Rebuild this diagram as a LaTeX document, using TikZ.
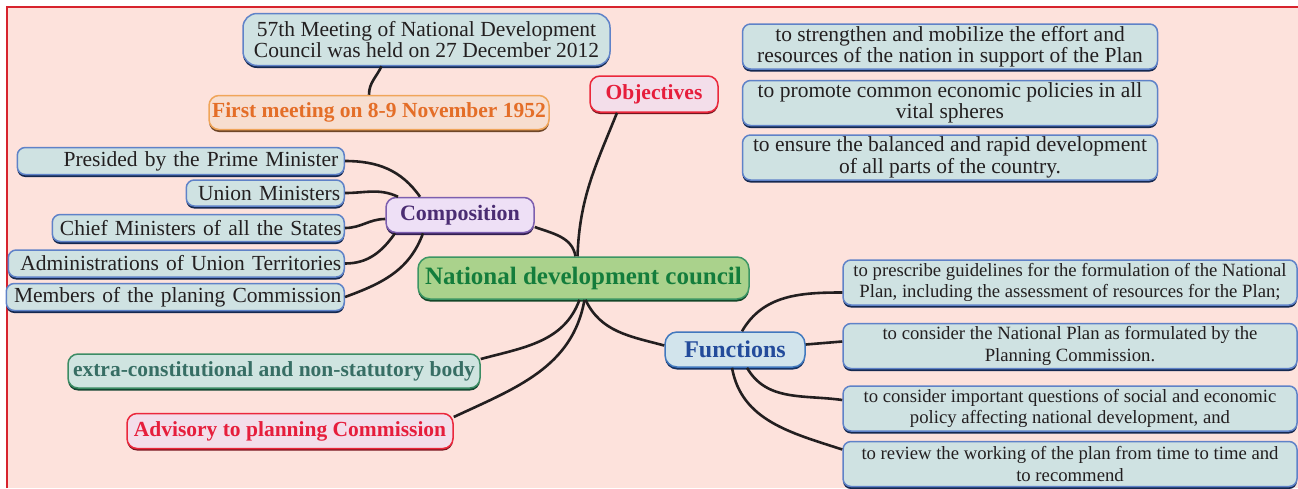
\documentclass[tikz,border=0pt]{standalone}
\usepackage{fontspec}
\setmainfont{Liberation Serif}
\usetikzlibrary{positioning, shadows}
\definecolor{bgPink}{RGB}{253,226,220}
\definecolor{frameRed}{RGB}{215,35,45}
\definecolor{inkDark}{RGB}{35,31,32}
\definecolor{itemFill}{RGB}{207,226,226}
\definecolor{itemLine}{RGB}{95,130,200}
\definecolor{itemDark}{RGB}{20,40,80}
\definecolor{peachFill}{RGB}{247,222,208}
\definecolor{peachLine}{RGB}{240,165,90}
\definecolor{peachDark}{RGB}{110,70,40}
\definecolor{peachText}{RGB}{228,110,40}
\definecolor{redFill}{RGB}{243,222,234}
\definecolor{redLine}{RGB}{235,40,60}
\definecolor{redDark}{RGB}{120,20,30}
\definecolor{redText}{RGB}{230,30,60}
\definecolor{greenFill}{RGB}{170,210,140}
\definecolor{greenLine}{RGB}{60,150,100}
\definecolor{greenDark}{RGB}{20,70,40}
\definecolor{greenText}{RGB}{20,125,60}
\definecolor{violetFill}{RGB}{238,224,246}
\definecolor{violetLine}{RGB}{125,95,175}
\definecolor{violetDark}{RGB}{50,30,80}
\definecolor{violetText}{RGB}{75,45,115}
\definecolor{blueFill}{RGB}{210,228,236}
\definecolor{blueLine}{RGB}{65,120,190}
\definecolor{blueDark}{RGB}{20,50,100}
\definecolor{blueText}{RGB}{35,75,155}
\definecolor{tealFill}{RGB}{207,228,224}
\definecolor{tealLine}{RGB}{60,140,100}
\definecolor{tealDark}{RGB}{20,70,50}
\definecolor{tealText}{RGB}{55,110,100}

\begin{document}
\begin{tikzpicture}[
    x=1pt, y=-1pt,
    every node/.style={inner sep=0pt},
    item/.style   ={rectangle, rounded corners=8pt, draw=itemLine, fill=itemFill, line width=1.5pt, drop shadow={shadow xshift=0pt, shadow yshift=-2.5pt, fill=itemDark, opacity=1}, text=inkDark, font=\fontsize{21.5}{21.5}\selectfont, align=center},
    side/.style   ={item, anchor=east, minimum height=27pt, align=right},
    func/.style   ={item, minimum width=454pt, minimum height=45pt, font=\fontsize{18.7}{21.5}\selectfont},
    aim/.style    ={item, minimum width=415pt, minimum height=45pt},
    tag/.style    ={rectangle, rounded corners=10pt, line width=1.5pt, font=\bfseries\fontsize{21.5}{22}\selectfont, align=center},
    first/.style  ={tag, draw=peachLine, fill=peachFill, text=peachText, drop shadow={shadow xshift=0pt, shadow yshift=-2.5pt, fill=peachDark, opacity=1}},
    redtag/.style ={tag, draw=redLine, fill=redFill, text=redText, drop shadow={shadow xshift=0pt, shadow yshift=-2pt, fill=redDark, opacity=1}},
    hub/.style    ={tag, rounded corners=12pt, draw=greenLine, fill=greenFill, text=greenText, font=\bfseries\fontsize{25}{26}\selectfont, drop shadow={shadow xshift=0pt, shadow yshift=-2.5pt, fill=greenDark, opacity=1}},
    comp/.style   ={tag, draw=violetLine, fill=violetFill, text=violetText, font=\bfseries\fontsize{22}{22}\selectfont, drop shadow={shadow xshift=0pt, shadow yshift=-2.5pt, fill=violetDark, opacity=1}},
    functag/.style={tag, rounded corners=12pt, draw=blueLine, fill=blueFill, text=blueText, font=\bfseries\fontsize{24}{24}\selectfont, drop shadow={shadow xshift=0pt, shadow yshift=-2.5pt, fill=blueDark, opacity=1}},
    body/.style   ={tag, draw=tealLine, fill=tealFill, text=tealText, drop shadow={shadow xshift=0pt, shadow yshift=-2.5pt, fill=tealDark, opacity=1}},
    link/.style   ={line width=2.6pt, draw=inkDark}
]
\useasboundingbox (0,0) rectangle (1298,488);
\fill[bgPink] (8,8) rectangle (1298,488);
\draw[frameRed, line width=2pt] (7,488) -- (7,7) -- (1298,7);

% centre and branches
\node[hub, minimum width=331pt, minimum height=42pt] (ndc) at (583.5,278) {National development council};
\node[item, rounded corners=14pt, minimum width=367pt, minimum height=52pt] (meet57) at (426.5,39.5) {57th Meeting of National Development\\Council was held on 27 December 2012};
\node[first, minimum width=340pt, minimum height=34pt] (firstmeet) at (379,112.5) {First meeting on 8-9 November 1952};
\node[redtag, minimum width=128pt, minimum height=36pt] (objv) at (654,94) {Objectives};
\node[comp, minimum width=148pt, minimum height=35pt] (compo) at (460,215) {Composition};
\node[functag, minimum width=140pt, minimum height=35pt] (funcs) at (735,349.5) {Functions};
\node[body, minimum width=412pt, minimum height=34pt] (extra) at (274,371) {extra-constitutional and non-statutory body};
\node[redtag, minimum width=326pt, minimum height=35pt] (advis) at (290,431) {Advisory to planning Commission};

% objectives
\node[aim] (aim1) at (950,46.5) {to strengthen and mobilize the effort and\\resources of the nation in support of the Plan};
\node[aim, below=10pt of aim1] (aim2) {to promote common economic policies in all\\vital spheres};
\node[aim, below=8pt of aim2] (aim3) {to ensure the balanced and rapid development\\of all parts of the country.};

% composition
\node[side, minimum width=327pt, text width=315pt] (pm) at (345,161) {Presided by the Prime Minister};
\node[side, minimum width=158pt, minimum height=26pt, text width=150pt] (um) at (345,193) {Union Ministers};
\node[side, minimum width=292pt, text width=287pt] (cm) at (345,228) {Chief Ministers of all the States};
\node[side, minimum width=336pt, text width=330pt] (admin) at (345,263.5) {Administrations of Union Territories};
\node[side, minimum width=338pt, text width=332pt] (members) at (345,297) {Members of the planing Commission};

% functions
\node[func] (fn1) at (1070,282.5) {to prescribe guidelines for the formulation of the National\\Plan, including the assessment of resources for the Plan;};
\node[func, below=17pt of fn1] (fn2) {to consider the National Plan as formulated by the\\Planning Commission.};
\node[func, below=16pt of fn2] (fn3) {to consider important questions of social and economic\\policy affecting national development, and};
\node[func, below=9pt of fn3] (fn4) {to review the working of the plan from time to time and\\to recommend};

\draw[link] ([xshift=-45pt]meet57.south) to[out=-115,in=90] ([xshift=-10pt]firstmeet.north);
\draw[link] (pm.east) to[out=0,in=125] ([xshift=-40pt]compo.north);
\draw[link] (um.east) to[out=0,in=155] ([xshift=-62pt]compo.north);
\draw[link] (cm.east) to[out=0,in=180] ([yshift=-4pt]compo.west);
\draw[link] (admin.east) to[out=0,in=-125] ([xshift=-65pt]compo.south);
\draw[link] (members.east) to[out=20,in=-110] ([xshift=-37pt]compo.south);
\draw[link] ([yshift=-12pt]compo.east) to[out=-20,in=100] ([xshift=-8pt]ndc.north);
\draw[link] ([xshift=-37pt]objv.south) to[out=-112,in=88] ([xshift=-6pt]ndc.north);
\draw[link] ([xshift=2pt]ndc.south) to[out=-65,in=165] ([yshift=4pt]funcs.west);
\draw[link] ([xshift=-4pt]ndc.south) to[out=-110,in=15] ([yshift=12pt]extra.east);
\draw[link] ([xshift=1pt]ndc.south) to[out=-100,in=25] ([yshift=14pt]advis.east);
\draw[link] ([xshift=7pt]funcs.north) to[out=60,in=180] ([yshift=-10pt]fn1.west);
\draw[link] ([yshift=5pt]funcs.east) -- ([yshift=4.5pt]fn2.west);
\draw[link] ([xshift=12pt]funcs.south) to[out=-60,in=172] ([yshift=8.5pt]fn3.west);
\draw[link] ([xshift=-3pt]funcs.south) to[out=-80,in=162] ([yshift=14.5pt]fn4.west);
\end{tikzpicture}
\end{document}
